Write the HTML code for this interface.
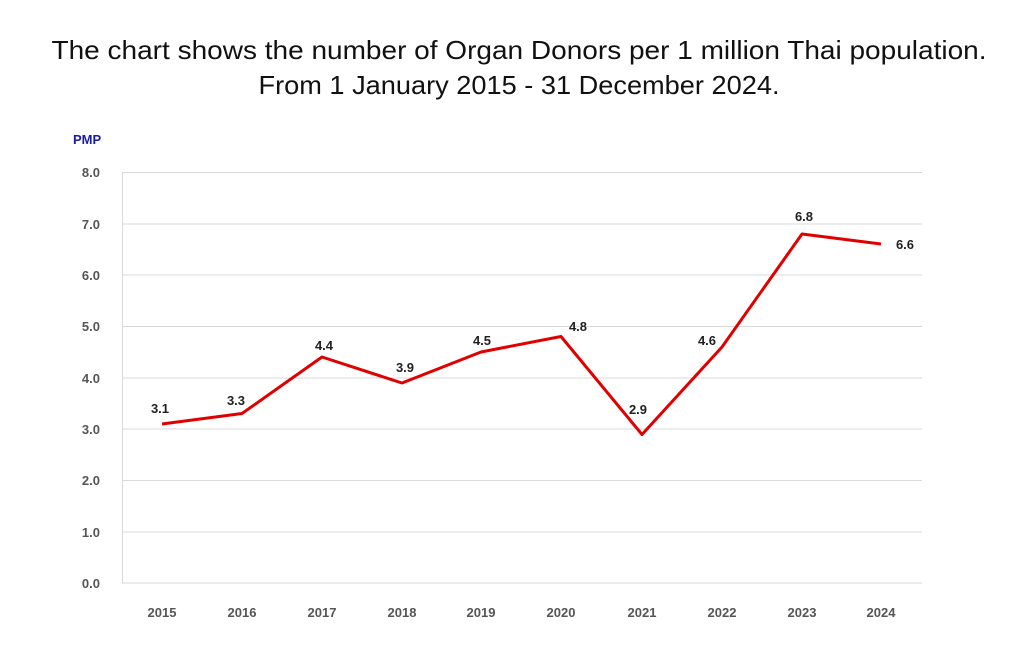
<!DOCTYPE html>
<html><head><meta charset="utf-8"><style>
body{margin:0;background:#fff;width:1013px;height:650px;overflow:hidden}
svg{display:block}
</style></head><body>
<svg width="1013" height="650" xmlns="http://www.w3.org/2000/svg" font-family="Liberation Sans, sans-serif">
<text x="519" y="59" font-size="26" text-anchor="middle" fill="#111" textLength="935" lengthAdjust="spacingAndGlyphs">The chart shows the number of Organ Donors per 1 million Thai population.</text>
<text x="519" y="94" font-size="26" text-anchor="middle" fill="#111" textLength="521" lengthAdjust="spacingAndGlyphs">From 1 January 2015 - 31 December 2024.</text>
<text x="73" y="144" font-size="13" font-weight="bold" fill="#1a1aa8">PMP</text>
<g stroke="#d9d9d9" stroke-width="1">
<line x1="122" y1="172.5" x2="922" y2="172.5"/>
<line x1="122" y1="224" x2="922" y2="224"/>
<line x1="122" y1="275" x2="922" y2="275"/>
<line x1="122" y1="326.5" x2="922" y2="326.5"/>
<line x1="122" y1="378" x2="922" y2="378"/>
<line x1="122" y1="429" x2="922" y2="429"/>
<line x1="122" y1="480.5" x2="922" y2="480.5"/>
<line x1="122" y1="532" x2="922" y2="532"/>
<line x1="122" y1="583" x2="922" y2="583"/>
<line x1="122.5" y1="172" x2="122.5" y2="583"/>
</g>
<g font-size="13" font-weight="bold" fill="#555" text-anchor="end">
<text x="100" y="177">8.0</text><text x="100" y="229">7.0</text><text x="100" y="280">6.0</text>
<text x="100" y="331">5.0</text><text x="100" y="383">4.0</text><text x="100" y="434">3.0</text>
<text x="100" y="485">2.0</text><text x="100" y="537">1.0</text><text x="100" y="588">0.0</text>
</g>
<g font-size="13" font-weight="bold" fill="#555" text-anchor="middle">
<text x="162" y="617">2015</text><text x="242" y="617">2016</text><text x="322" y="617">2017</text>
<text x="402" y="617">2018</text><text x="481" y="617">2019</text><text x="561" y="617">2020</text>
<text x="642" y="617">2021</text><text x="722" y="617">2022</text><text x="802" y="617">2023</text>
<text x="881" y="617">2024</text>
</g>
<polyline fill="none" stroke="#e00000" stroke-width="3" stroke-linejoin="round"
points="162,424 242,413.5 322,357 402,383 481,352 561,336.5 642,434.5 722,347 802,234 881,244"/>
<g font-size="13" font-weight="bold" fill="#222" text-anchor="middle">
<text x="160" y="413">3.1</text><text x="236" y="405">3.3</text><text x="324" y="350">4.4</text>
<text x="405" y="372">3.9</text><text x="482" y="345">4.5</text><text x="578" y="331">4.8</text>
<text x="638" y="414">2.9</text><text x="707" y="345">4.6</text><text x="804" y="221">6.8</text>
<text x="905" y="249">6.6</text>
</g>
</svg>
</body></html>
